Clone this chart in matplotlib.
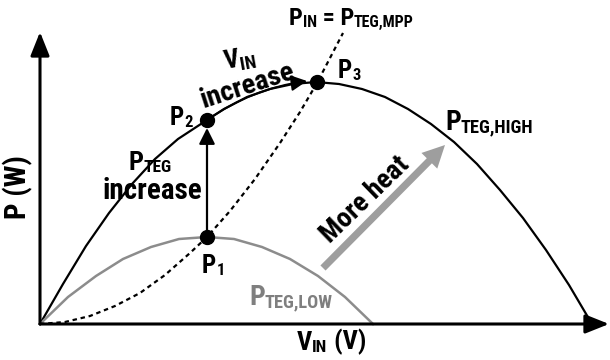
import matplotlib
matplotlib.use('Agg')
import matplotlib.pyplot as plt
from matplotlib import font_manager
from matplotlib.patches import FancyArrowPatch

# narrow bold face if we have one
names = {f.name for f in font_manager.fontManager.ttflist}
fam = next(f for f in ['Liberation Sans Narrow', 'Arial Narrow', 'Roboto Condensed',
                       'Liberation Sans', 'DejaVu Sans'] if f in names)
plt.rcParams['mathtext.fontset'] = 'custom'
plt.rcParams['mathtext.rm'] = fam + ':bold'
plt.rcParams['mathtext.default'] = 'rm'

# P-V curves of the TEG (hot and cold case) and the MPP locus
v_high = [0, 23, 46, 69, 92, 115, 138, 167, 184, 207, 230, 253, 276,
          299, 322, 345, 368, 391, 414, 437, 460, 483, 506, 529, 552]
p_high = [0, 40, 78, 111, 140, 165, 185, 204, 215, 227, 235, 240, 242,
          240, 235, 227, 215, 200, 182, 160, 134, 106, 74, 39, 0]

v_low = [0, 28, 56, 83, 111, 139, 167, 194, 222, 250, 278, 305, 333]
p_low = [0, 27, 48, 65, 77, 85, 87, 85, 77, 65, 48, 27, 0]

v_mpp = [0, 25, 50, 75, 100, 125, 150, 167, 190, 215, 240, 260, 277, 303]
p_mpp = [0, 2, 8, 18, 31, 49, 71, 87, 113, 145, 181, 212, 241, 291]

# operating points P1, P2, P3
v_pts = [167, 167, 277]
p_pts = [87, 204, 242]

fig = plt.figure(figsize=(6.1, 3.6), dpi=100)
ax = fig.add_axes([0, 0, 1, 1])
ax.set_xlim(-40, 570)
ax.set_ylim(-36, 324)
ax.axis('off')

txt = dict(fontfamily=fam, fontweight='bold')


def label(x, y, parts, size, color='black'):
    # parts alternate: normal, subscript, normal, ...
    prev = None
    for i, s in enumerate(parts):
        fs = size if i % 2 == 0 else size * 0.66
        if prev is None:
            prev = ax.text(x, y, s, fontsize=fs, color=color, ha='left', va='baseline', **txt)
        else:
            prev = ax.annotate(s, xy=(1, 0), xycoords=prev, fontsize=fs, color=color,
                               ha='left', va='bottom', **txt)


# axes with arrow heads
ax_arrow = dict(arrowstyle='-|>,head_length=0.9,head_width=0.36', mutation_scale=16,
                lw=2.2, color='black', shrinkA=0, shrinkB=0)
ax.annotate('', xy=(0, 292), xytext=(0, 0), arrowprops=ax_arrow)
ax.annotate('', xy=(569, 0), xytext=(0, 0), arrowprops=ax_arrow)

ax.plot(v_high, p_high, color='black', lw=1.6, solid_joinstyle='round')
ax.plot(v_low, p_low, color='#8c8c8c', lw=1.8, solid_joinstyle='round')
ax.plot(v_mpp, p_mpp, color='black', lw=1.6, ls=(0, (2, 1.7)))

# P1 -> P2
ax.annotate('', xy=(v_pts[1], p_pts[1] - 8), xytext=(v_pts[0], p_pts[0]),
            arrowprops=dict(arrowstyle='-|>,head_length=0.8,head_width=0.4', mutation_scale=12,
                            lw=1.6, color='black', shrinkA=0, shrinkB=0))
# P2 -> P3
ax.add_patch(FancyArrowPatch((v_pts[1], p_pts[1]), (v_pts[2] - 10, p_pts[2] + 1),
                             connectionstyle='arc3,rad=-0.12',
                             arrowstyle='-|>,head_length=0.8,head_width=0.4', mutation_scale=12,
                             lw=1.4, color='black', shrinkA=0, shrinkB=0))
# more heat
ax.add_patch(FancyArrowPatch((283, 56), (405, 179),
                             arrowstyle='simple,head_length=0.8,head_width=0.8,tail_width=0.26',
                             mutation_scale=20, color='#9e9e9e', lw=0, shrinkA=0, shrinkB=0))

ax.plot(v_pts, p_pts, 'o', color='black', ms=10, zorder=5)

label(249, 299, ['P', 'IN', ' = P', 'TEG,MPP'], 17.5)
label(298, 246, ['P', '3'], 18)
label(405, 194, ['P', 'TEG,HIGH'], 20)
label(209, 19, ['P', 'TEG,LOW'], 20, color='#7f7f7f')
label(162, 51, ['P', '1'], 18)
label(130, 199, ['P', '2'], 18)
label(88, 154, ['P', 'TEG'], 19)
ax.text(112, 125, 'increase', fontsize=21, ha='center', va='baseline', **txt)
ax.text(200, 264, r'V$_{IN}$', fontsize=19, ha='center', va='center', rotation=10, **txt)
ax.text(208, 238, 'increase', fontsize=20.5, ha='center', va='center', rotation=18, **txt)
ax.text(325, 124, 'More heat', fontsize=20, ha='center', va='center', rotation=44, **txt)
ax.text(-22, 137, 'P (W)', fontsize=21, ha='center', va='center', rotation=90, **txt)
label(257, -26, ['V', 'IN', ' (V)'], 19)

fig.savefig('out.png', dpi=100)
